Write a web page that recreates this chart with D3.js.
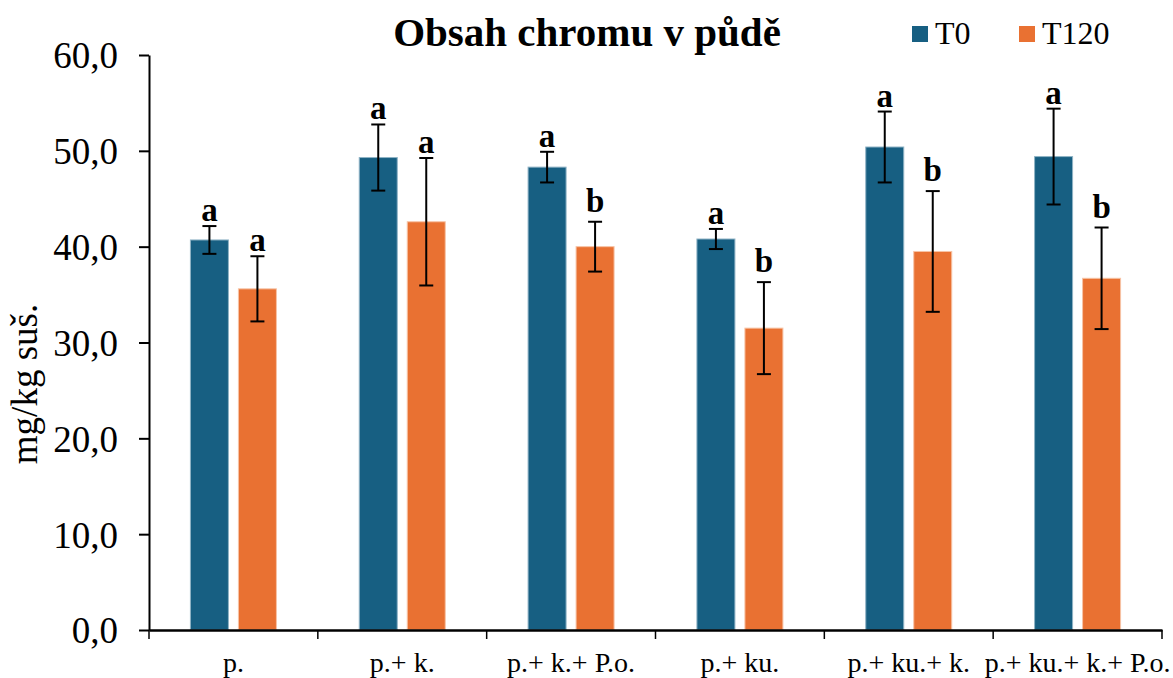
<!DOCTYPE html>
<html>
<head>
<meta charset="utf-8">
<script src="https://cdn.jsdelivr.net/npm/d3@7"></script>
<style>
  body { margin: 0; background: #fff; }
  text { font-family: "Liberation Serif", "Times New Roman", serif; }
</style>
</head>
<body>
<svg id="chart" width="1173" height="678"></svg>
<script>
// chart data
const categories = ['p.', 'p.+ k.', 'p.+ k.+ P.o.', 'p.+ ku.', 'p.+ ku.+ k.', 'p.+ ku.+ k.+ P.o.'];
const seriesNames = ['T0', 'T120'];
const t0Values = [40.7, 49.3, 48.3, 40.8, 50.4, 49.4];
const t120Values = [35.6, 42.6, 40.0, 31.5, 39.5, 36.7];
const t0Errors = [1.45, 3.45, 1.6, 1.05, 3.7, 5.0];
const t120Errors = [3.4, 6.65, 2.6, 4.8, 6.3, 5.3];
const t0Letters = ['a', 'a', 'a', 'a', 'a', 'a'];
const t120Letters = ['a', 'a', 'b', 'b', 'b', 'b'];
const yTicks = [0, 10, 20, 30, 40, 50, 60];

const colors = ['#175f82', '#e97132'];
const serif = '"Liberation Serif", "Times New Roman", serif';

const svg = d3.select('#chart');
const plotLeft = 149, plotRight = 1162, plotTop = 55, plotBottom = 630;

const x = d3.scaleBand().domain(categories).range([plotLeft, plotRight]);
const y = d3.scaleLinear().domain([0, 60]).range([plotBottom, plotTop]);

const barW = 38, gap = 10;

// one row per series
const series = [
  { name: seriesNames[0], values: t0Values, errors: t0Errors, letters: t0Letters, offset: -(gap / 2 + barW) },
  { name: seriesNames[1], values: t120Values, errors: t120Errors, letters: t120Letters, offset: gap / 2 }
];

// y axis
const yAxis = svg.append('g')
  .attr('transform', `translate(${plotLeft},0)`)
  .attr('font-family', serif)
  .call(d3.axisLeft(y).tickValues(yTicks).tickSize(10).tickSizeOuter(0)
    .tickFormat(d => d3.format('.1f')(d).replace('.', ',')));
yAxis.select('.domain').attr('stroke', '#000').attr('stroke-width', 2);
yAxis.selectAll('.tick line').attr('stroke', '#000').attr('stroke-width', 2);
yAxis.selectAll('.tick text')
  .attr('x', -31).attr('dy', '0.35em')
  .attr('font-size', 37).attr('fill', '#000');

// bars
series.forEach((s, si) => {
  const g = svg.append('g');
  g.selectAll('rect').data(categories).join('rect')
    .attr('x', d => x(d) + x.bandwidth() / 2 + s.offset)
    .attr('y', (d, i) => y(s.values[i]))
    .attr('width', barW)
    .attr('height', (d, i) => y(0) - y(s.values[i]))
    .attr('fill', colors[si])
    .attr('stroke', si === 0 ? '#8fb3c5' : '#f7c4a6')
    .attr('stroke-width', 1);

  // error bars + letters
  categories.forEach((c, i) => {
    const cx = x(c) + x.bandwidth() / 2 + s.offset + barW / 2;
    const hi = y(s.values[i] + s.errors[i]);
    const lo = y(s.values[i] - s.errors[i]);
    g.append('line').attr('x1', cx).attr('x2', cx).attr('y1', hi).attr('y2', lo)
      .attr('stroke', '#000').attr('stroke-width', 2);
    [hi, lo].forEach(yy => {
      g.append('line').attr('x1', cx - 7).attr('x2', cx + 7).attr('y1', yy).attr('y2', yy)
        .attr('stroke', '#000').attr('stroke-width', 2);
    });
    g.append('text')
      .attr('x', cx).attr('y', hi - (s.letters[i] === 'b' ? 10 : 5))
      .attr('text-anchor', 'middle')
      .attr('font-size', 33).attr('font-weight', 'bold')
      .text(s.letters[i]);
  });
});

// x axis
const xAxis = svg.append('g')
  .attr('transform', `translate(0,${plotBottom})`)
  .attr('font-family', serif)
  .call(d3.axisBottom(x).tickSize(0).tickSizeOuter(0));
xAxis.select('.domain').attr('stroke', '#000').attr('stroke-width', 2.5);
xAxis.selectAll('.tick text')
  .attr('y', 42).attr('dy', 0)
  .attr('font-size', 28).attr('fill', '#000');
// ticks sit on the category boundaries
const bounds = categories.map(c => x(c)).concat([plotRight]);
xAxis.selectAll('.bound').data(bounds).join('line')
  .attr('class', 'bound')
  .attr('x1', d => d).attr('x2', d => d)
  .attr('y1', 0).attr('y2', 9)
  .attr('stroke', '#000').attr('stroke-width', 1.5);

// y label
svg.append('text')
  .attr('transform', 'translate(37,384) rotate(-90)')
  .attr('text-anchor', 'middle')
  .attr('font-size', 37)
  .text('mg/kg suš.');

// title
svg.append('text')
  .attr('x', 587).attr('y', 46)
  .attr('text-anchor', 'middle')
  .attr('font-size', 41).attr('font-weight', 'bold')
  .text('Obsah chromu v půdě');

// legend
const legendX = [912, 1019];
series.forEach((s, si) => {
  svg.append('rect')
    .attr('x', legendX[si]).attr('y', 26)
    .attr('width', 16).attr('height', 16)
    .attr('fill', colors[si]);
  svg.append('text')
    .attr('x', legendX[si] + 23).attr('y', 44)
    .attr('font-size', 32)
    .text(s.name);
});
</script>
</body>
</html>
